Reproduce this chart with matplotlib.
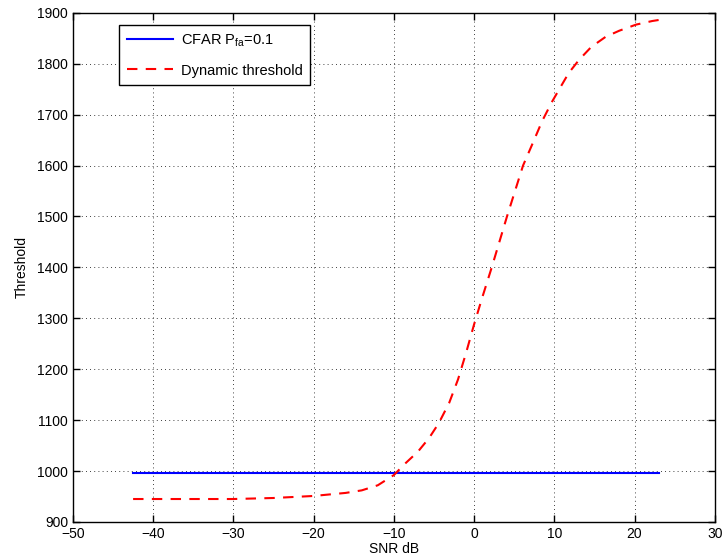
import numpy as np
import matplotlib.pyplot as plt

plt.rcParams['font.family'] = ['Liberation Sans', 'DejaVu Sans']

# === Data ===
cfar_snr = [-42.5, 23]
cfar_thr = [997, 997]

snr = [-42.5, -35, -30, -25, -20, -16, -14, -12, -10, -8.5, -7, -5.6, -4.4,
       -3.1, -2, -1, 0, 1, 2.2, 4.1, 6.1, 7.2, 8.5, 9.7, 10.8, 11.8, 13.1,
       14.6, 16.4, 18.1, 20.2, 22.2, 23]
dyn_thr = [945, 945, 945, 947, 951, 957, 962, 972, 992, 1016, 1038, 1065, 1094,
           1134, 1180, 1232, 1288, 1340, 1400, 1500, 1600, 1640, 1688, 1725, 1755,
           1782, 1808, 1833, 1853, 1865, 1877, 1884, 1886]

# === Plot ===
fig = plt.figure(figsize=(7.22, 5.6), dpi=100)
ax = fig.add_axes([0.101, 0.068, 0.889, 0.909])

ax.plot(cfar_snr, cfar_thr, color='#0000ff', lw=1.5, label='CFAR P$_{\\mathregular{fa}}$=0.1')
ax.plot(snr, dyn_thr, color='#ff0000', lw=1.5, ls=(0, (5, 4)), label='Dynamic threshold')

ax.set_xlim(-50, 30)
ax.set_ylim(900, 1900)
ax.set_xticks(np.arange(-50, 31, 10))
ax.set_yticks(np.arange(900, 1901, 100))
ax.set_xticklabels(['\u221250', '\u221240', '\u221230', '\u221220', '\u221210', '0', '10', '20', '30'])

ax.grid(True, color='black', ls=(0, (1, 4)), lw=0.6)
ax.tick_params(direction='in', top=True, right=True, labelsize=10, length=5, width=1)
for s in ax.spines.values():
    s.set_linewidth(1.0)

ax.set_xlabel('SNR dB', fontsize=10, labelpad=1)
ax.set_ylabel('Threshold', fontsize=10, labelpad=6)

leg = ax.legend(loc='upper left', bbox_to_anchor=(0.068, 0.982), fontsize=10.5,
                fancybox=False, framealpha=1, edgecolor='black',
                handlelength=3.2, handletextpad=0.5, borderpad=0.5,
                labelspacing=1.0, borderaxespad=0.2)
leg.get_frame().set_linewidth(1.0)

plt.savefig('out.png', dpi=100)
